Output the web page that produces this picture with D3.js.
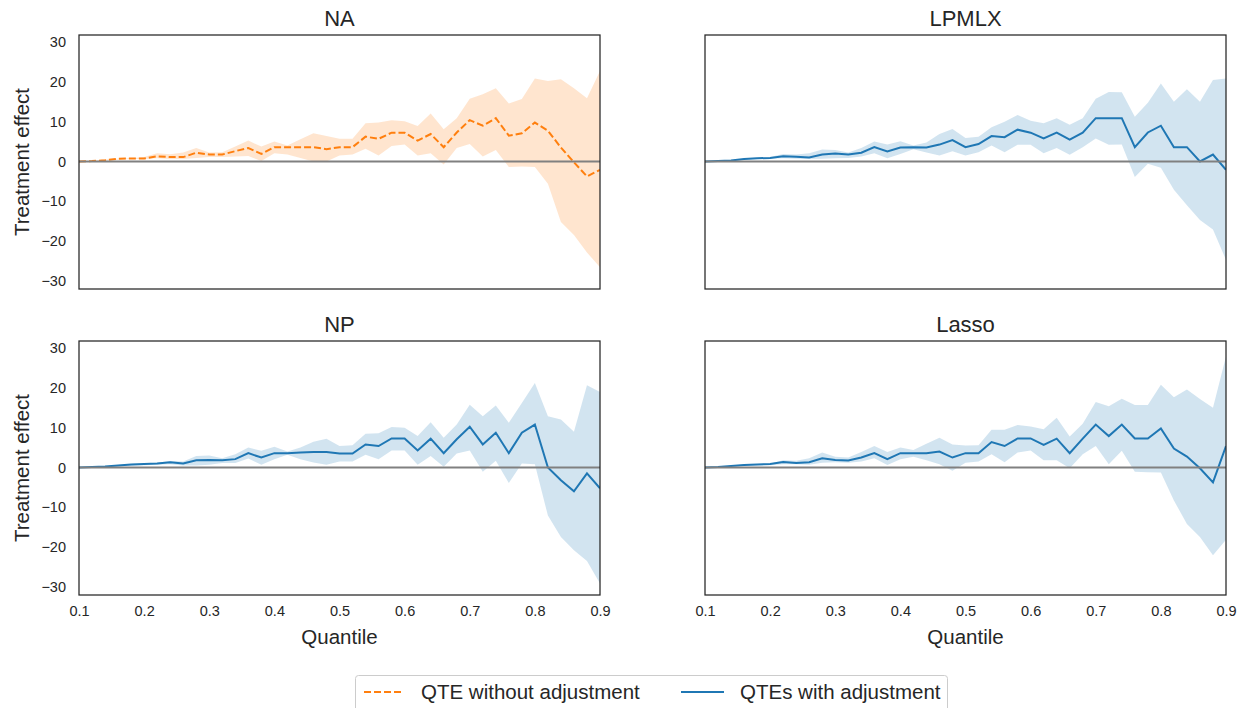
<!DOCTYPE html>
<html>
<head>
<meta charset="utf-8">
<script src="https://cdn.jsdelivr.net/npm/d3@7"></script>
<style>
  html, body { margin: 0; padding: 0; background: #fff; }
  svg { display: block; font-family: "Liberation Sans", Arial, sans-serif; }
</style>
</head>
<body>
<svg id="chart" width="1244" height="708"></svg>
<script>
// ---------------- data ----------------
const quantiles = [0.10,0.12,0.14,0.16,0.18,0.20,0.22,0.24,0.26,0.28,0.30,0.32,0.34,0.36,0.38,0.40,0.42,0.44,0.46,0.48,0.50,
                   0.52,0.54,0.56,0.58,0.60,0.62,0.64,0.66,0.68,0.70,0.72,0.74,0.76,0.78,0.80,0.82,0.84,0.86,0.88,0.90];
const xTicks = [0.1,0.2,0.3,0.4,0.5,0.6,0.7,0.8,0.9];
const yTicks = [-30,-20,-10,0,10,20,30];
const panelTitles = ["NA", "LPMLX", "NP", "Lasso"];
const legendLabels = ["QTE without adjustment", "QTEs with adjustment"];

const naEst = [0,0.1,0.3,0.7,0.75,0.75,1.3,1.1,1.1,2.2,1.75,1.75,2.6,3.4,1.9,3.6,3.6,3.6,3.6,3.1,3.6,
               3.6,6.25,5.7,7.25,7.25,5.25,6.9,3.6,7.3,10.4,9.0,10.9,6.5,7.1,9.8,7.75,3.5,-0.2,-3.75,-2.1];
const naHi  = [0,0.2,0.5,0.7,0.8,1.1,2.1,1.8,2.25,3.4,2.25,2.3,3.75,5.25,3.75,5.0,4.0,5.6,7.1,6.4,5.7,
               5.7,9.6,9.8,10.4,10.1,8.9,12.1,8.1,10.9,15.8,16.9,18.4,14.6,15.7,20.9,20.25,20.7,18.4,15.9,22.75];
const naLo  = [0,0,0.2,0.5,0.6,0.6,0.8,0.6,0.6,0.9,1.1,1.1,1.25,1.4,0.1,2.1,1.75,0.9,0,0,1.5,
               1.75,3.2,1.5,3.9,4.25,1.5,2.1,-0.75,3.4,4.4,1.25,2.9,-1.4,-1.25,-1.4,-5.6,-15.2,-18.5,-22.9,-26.6];

const lpEst = [0,0.1,0.25,0.6,0.8,0.9,1.3,1.2,1.0,1.75,2.0,1.75,2.2,3.6,2.5,3.5,3.6,3.5,4.25,5.4,3.6,
               4.4,6.4,6.1,8.0,7.25,5.8,7.25,5.5,7.25,10.9,10.9,10.9,3.6,7.3,9.0,3.6,3.6,0,1.75,-2.1];
const lpHi  = [0,0.1,0.35,0.7,0.9,1.1,1.9,1.75,2.1,3.0,2.9,2.25,3.4,5.0,4.25,5.1,4.0,4.8,6.9,8.2,5.9,
               6.25,8.6,10,11.7,10.25,9.6,10.9,9.25,10.9,15.8,17.5,17.4,11.25,14.8,19.6,15,18.2,15,20.5,20.9];
const lpLo  = [0,0,0.15,0.45,0.6,0.7,0.8,0.7,0.6,0.7,0.8,0.9,1.25,2.1,0.8,1.9,3.1,2.25,1.5,2.6,1.5,
               2.3,4.0,2.3,4.2,4.2,2.1,3.4,1.7,3.6,5.8,4.2,4.25,-3.9,-0.6,-1.6,-7.1,-11,-14.75,-17.1,-24.75];

const npEst = [0,0.1,0.25,0.5,0.75,0.9,1.0,1.3,1.0,1.8,1.9,1.8,2.1,3.6,2.5,3.6,3.6,3.75,3.9,3.9,3.5,
               3.5,5.8,5.4,7.3,7.3,4.3,7.25,3.6,7.1,10.25,5.8,8.75,3.6,8.75,10.8,0,-3.2,-6,-1.5,-5.25];
const npHi  = [0,0.15,0.35,0.6,0.9,1.0,1.2,1.6,1.5,2.9,3.0,2.3,3.3,5.0,4.2,5.2,4.0,5.0,6.5,7.2,5.4,
               5.6,8.5,8.6,10.2,10,7.9,11.4,7.5,10.8,15.8,12.9,15.6,11.25,16.25,21.25,12.9,12.1,9,20.7,19];
const npLo  = [0,0,0.15,0.3,0.45,0.55,0.7,0.8,0.5,0.5,0.7,1.1,1.1,2.25,0.7,2.1,3.2,2.1,1.25,0.7,1.5,
               1.5,3.2,2.1,4.3,4.3,0.7,2.9,0.2,3.5,4.3,-1.1,1.7,-3.9,1.0,0.8,-12.1,-17.5,-20.8,-23.5,-29.2];

const laEst = [0,0.1,0.35,0.65,0.75,0.9,1.4,1.1,1.3,2.3,1.9,1.75,2.5,3.6,2.1,3.6,3.6,3.6,4.0,2.5,3.6,
               3.6,6.4,5.4,7.3,7.3,5.7,7.25,3.6,7.25,10.8,7.9,10.8,7.3,7.3,9.8,4.75,2.75,-0.2,-3.75,5.4];
const laHi  = [0,0.15,0.45,0.75,0.9,1.0,1.8,1.7,2.3,3.75,2.7,2.5,3.9,5.4,3.9,5.0,4.4,6.0,7.5,5.8,5.5,
               5.6,9.5,9.5,10.7,10.3,9.6,12.5,7.8,11,16.5,15.4,17.3,15.7,15.7,20.8,17.7,19.6,17.25,15,27.9];
const laLo  = [0,0,0.2,0.45,0.55,0.55,0.8,0.8,0.7,1.2,1.3,1.2,1.5,2.3,0.6,2.1,2.7,1.8,0.8,-0.8,1.2,
               1.5,3.3,1.3,3.75,4.3,1.8,1.8,-0.2,3.3,5.4,0.8,4.2,-1.1,-1.2,-1.25,-8.3,-14.2,-17.5,-22.1,-18.2];

// ---------------- layout ----------------
const svg = d3.select("#chart");
const ORANGE = "#ff7f0e", BLUE = "#1f77b4";
const TEXT = "#262626";
const panels = [
  {title: panelTitles[0], est: naEst, lo: naLo, hi: naHi, color: ORANGE, dashed: true,  col: 0, row: 0},
  {title: panelTitles[1], est: lpEst, lo: lpLo, hi: lpHi, color: BLUE,   dashed: false, col: 1, row: 0},
  {title: panelTitles[2], est: npEst, lo: npLo, hi: npHi, color: BLUE,   dashed: false, col: 0, row: 1},
  {title: panelTitles[3], est: laEst, lo: laLo, hi: laHi, color: BLUE,   dashed: false, col: 1, row: 1}
];
const colX = [79, 705], rowY = [35, 341];
const PW = 521, PH = 254;

panels.forEach(p => {
  const x0 = colX[p.col], y0 = rowY[p.row];
  const x = d3.scaleLinear().domain([0.1, 0.9]).range([x0, x0 + PW]);
  const y = d3.scaleLinear().domain([-32.08, 31.82]).range([y0 + PH, y0]);
  const g = svg.append("g");
  const clipId = "clip" + p.col + p.row;
  g.append("clipPath").attr("id", clipId).append("rect")
    .attr("x", x0).attr("y", y0).attr("width", PW).attr("height", PH);
  const inner = g.append("g").attr("clip-path", `url(#${clipId})`);

  const rows = quantiles.map((q, i) => ({q, e: p.est[i], lo: p.lo[i], hi: p.hi[i]}));
  inner.append("path").datum(rows)
    .attr("d", d3.area().x(d => x(d.q)).y0(d => y(d.lo)).y1(d => y(d.hi)))
    .attr("fill", p.color).attr("fill-opacity", 0.2).attr("stroke", "none");
  inner.append("path").datum(rows)
    .attr("d", d3.line().x(d => x(d.q)).y(d => y(d.e)))
    .attr("fill", "none").attr("stroke", p.color).attr("stroke-width", 2)
    .attr("stroke-dasharray", p.dashed ? "7,3" : null);
  inner.append("line")
    .attr("x1", x0).attr("x2", x0 + PW).attr("y1", y(0)).attr("y2", y(0))
    .attr("stroke", "#808080").attr("stroke-width", 2);

  // spines
  g.append("rect").attr("x", x0).attr("y", y0).attr("width", PW).attr("height", PH)
    .attr("fill", "none").attr("stroke", TEXT).attr("stroke-width", 1.25);

  // title
  g.append("text").attr("x", x0 + PW / 2).attr("y", y0 - 9)
    .attr("text-anchor", "middle").attr("font-size", 22).attr("fill", TEXT).text(p.title);

  // y axis
  if (p.col === 0) {
    const ya = d3.axisLeft(y).tickValues(yTicks).tickSize(0).tickPadding(13)
      .tickFormat(d => d < 0 ? "\u2212" + Math.abs(d) : String(d));
    const ag = g.append("g").attr("transform", `translate(${x0},0)`).call(ya);
    ag.select(".domain").remove();
    ag.selectAll("text").attr("font-size", 14.5).attr("fill", TEXT)
      .attr("font-family", '"Liberation Sans", Arial, sans-serif');
    g.append("text")
      .attr("transform", `translate(29,${y0 + PH / 2}) rotate(-90)`)
      .attr("text-anchor", "middle").attr("font-size", 20.5).attr("fill", TEXT)
      .text("Treatment effect");
  }
  // x axis
  if (p.row === 1) {
    const xa = d3.axisBottom(x).tickValues(xTicks).tickSize(0).tickPadding(11)
      .tickFormat(d3.format(".1f"));
    const ag = g.append("g").attr("transform", `translate(0,${y0 + PH})`).call(xa);
    ag.select(".domain").remove();
    ag.selectAll("text").attr("font-size", 14.5).attr("fill", TEXT)
      .attr("font-family", '"Liberation Sans", Arial, sans-serif');
    g.append("text").attr("x", x0 + PW / 2).attr("y", 644)
      .attr("text-anchor", "middle").attr("font-size", 20.5).attr("fill", TEXT)
      .text("Quantile");
  }
});

// ---------------- legend ----------------
const lg = svg.append("g");
lg.append("rect").attr("x", 355.5).attr("y", 675.5).attr("width", 592).attr("height", 45).attr("rx", 3)
  .attr("fill", "#fff").attr("stroke", "#cccccc").attr("stroke-width", 1);
lg.append("line").attr("x1", 364).attr("x2", 403).attr("y1", 692).attr("y2", 692)
  .attr("stroke", ORANGE).attr("stroke-width", 2).attr("stroke-dasharray", "7,3");
lg.append("text").attr("x", 421).attr("y", 699).attr("font-size", 20.5).attr("fill", TEXT).text(legendLabels[0]);
lg.append("line").attr("x1", 681).attr("x2", 724).attr("y1", 692).attr("y2", 692)
  .attr("stroke", BLUE).attr("stroke-width", 2);
lg.append("text").attr("x", 740).attr("y", 699).attr("font-size", 20.5).attr("fill", TEXT).text(legendLabels[1]);
</script>
</body>
</html>
